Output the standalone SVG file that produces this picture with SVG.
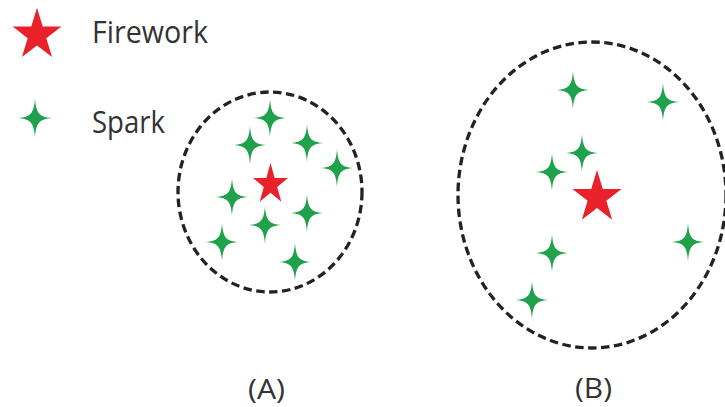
<svg xmlns="http://www.w3.org/2000/svg" width="725" height="407" viewBox="0 0 725 407">
<style>
.bg{fill:#ffffff}
.ring{fill:none;stroke:#222222;stroke-width:3.3;stroke-dasharray:8.5 4.5}
.fw{fill:#e8212b}
.sp{fill:#1fa24b}
.lbl{font-family:"Open Sans","Liberation Sans",sans-serif;fill:#333333}
</style>
<defs>
<path id="star" d="M0,-20 L4.49,-6.18 L19.02,-6.18 L7.27,2.36 L11.76,16.18 L0,7.64 L-11.76,16.18 L-7.27,2.36 L-19.02,-6.18 L-4.49,-6.18Z"/>
<path id="spark" d="M0,-19 C1.1,-4.2 4.2,-1.1 16,0 C4.2,1.1 1.1,4.2 0,19 C-1.1,4.2 -4.2,1.1 -16,0 C-4.2,-1.1 -1.1,-4.2 0,-19Z"/>
</defs>
<rect class="bg" x="0" y="0" width="725" height="407"/>
<g id="legend">
  <g id="legend-firework">
    <use href="#star" class="fw" transform="translate(37,35) scale(1.28,1.36)"/>
    <text class="lbl" x="92" y="43" font-size="31" textLength="116" lengthAdjust="spacingAndGlyphs">Firework</text>
  </g>
  <g id="legend-spark">
    <use href="#spark" class="sp" transform="translate(35,118) scale(1.06,1.03)"/>
    <text class="lbl" x="92" y="133" font-size="31" textLength="73" lengthAdjust="spacingAndGlyphs">Spark</text>
  </g>
</g>
<g id="panel-A">
  <ellipse class="ring" cx="270" cy="192" rx="92" ry="100"/>
  <use href="#star" class="fw" transform="translate(270.5,184.5) scale(0.92,1.07)"/>
  <use href="#spark" class="sp" x="270" y="118"/>
  <use href="#spark" class="sp" x="250" y="145"/>
  <use href="#spark" class="sp" x="307" y="143"/>
  <use href="#spark" class="sp" x="337" y="168"/>
  <use href="#spark" class="sp" x="232" y="197"/>
  <use href="#spark" class="sp" x="307" y="213"/>
  <use href="#spark" class="sp" x="265" y="225"/>
  <use href="#spark" class="sp" x="222" y="242"/>
  <use href="#spark" class="sp" x="295" y="262"/>
  <text class="lbl" x="248" y="399" font-size="28" textLength="37" lengthAdjust="spacingAndGlyphs">(A)</text>
</g>
<g id="panel-B">
  <ellipse class="ring" cx="592" cy="195" rx="134" ry="153"/>
  <use href="#star" class="fw" transform="translate(597,197.5) scale(1.29,1.38)"/>
  <use href="#spark" class="sp" x="573" y="90"/>
  <use href="#spark" class="sp" x="663" y="102"/>
  <use href="#spark" class="sp" x="582" y="153"/>
  <use href="#spark" class="sp" x="552" y="172"/>
  <use href="#spark" class="sp" x="688" y="242"/>
  <use href="#spark" class="sp" x="552" y="253"/>
  <use href="#spark" class="sp" x="532" y="300"/>
  <text class="lbl" x="575" y="398" font-size="28" textLength="37" lengthAdjust="spacingAndGlyphs">(B)</text>
</g>
</svg>
